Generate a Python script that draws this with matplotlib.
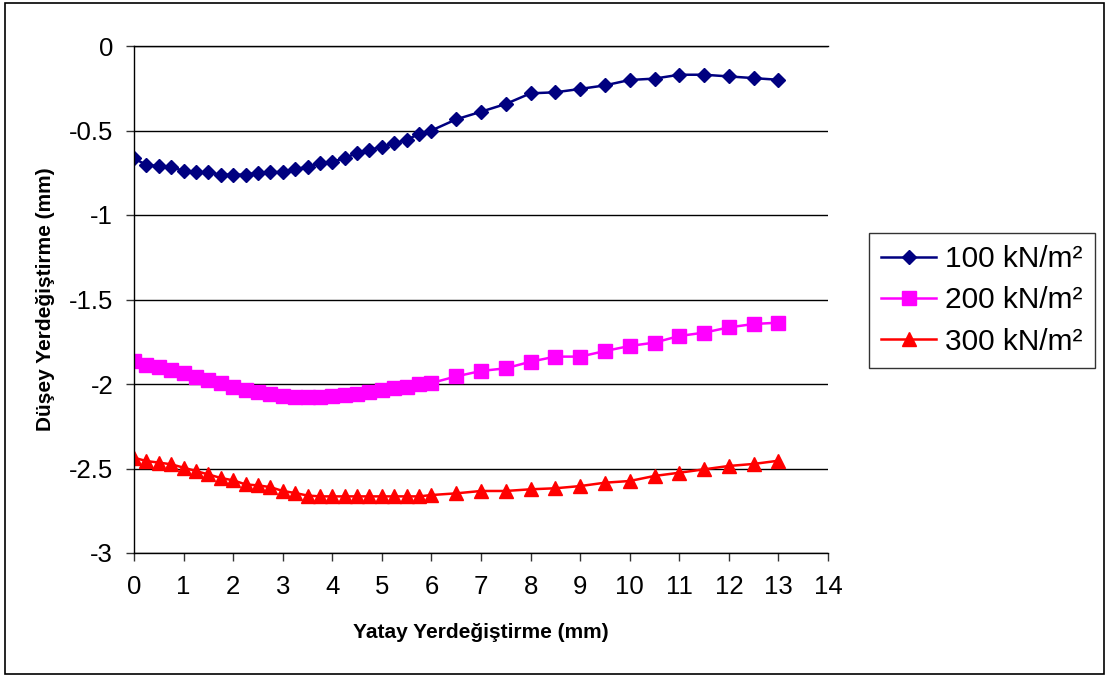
import matplotlib
matplotlib.use('Agg')
import matplotlib.pyplot as plt
from matplotlib.patches import Rectangle
from matplotlib import rcParams

rcParams['font.family'] = ['Liberation Sans', 'DejaVu Sans']

#%% data
x = [0, 0.25, 0.5, 0.75, 1.0, 1.25, 1.5, 1.75, 2.0, 2.25, 2.5, 2.75, 3.0,
     3.25, 3.5, 3.75, 4.0, 4.25, 4.5, 4.75, 5.0, 5.25, 5.5, 5.75, 6.0,
     6.5, 7.0, 7.5, 8.0, 8.5, 9.0, 9.5, 10.0, 10.5, 11.0, 11.5, 12.0, 12.5, 13.0]

y_100 = [-0.665, -0.704, -0.710, -0.718, -0.738, -0.748, -0.748, -0.761, -0.761,
         -0.761, -0.749, -0.748, -0.744, -0.730, -0.714, -0.694, -0.684, -0.665,
         -0.631, -0.615, -0.596, -0.576, -0.556, -0.52, -0.50,
         -0.434, -0.389, -0.343, -0.28, -0.274, -0.254, -0.233, -0.201, -0.193,
         -0.17, -0.17, -0.18, -0.19, -0.20]

y_200 = [-1.864, -1.888, -1.90, -1.92, -1.937, -1.957, -1.976, -1.996, -2.016,
         -2.036, -2.05, -2.06, -2.07, -2.075, -2.075, -2.075, -2.07, -2.065,
         -2.06, -2.045, -2.036, -2.026, -2.016, -2.00, -1.994,
         -1.955, -1.923, -1.907, -1.868, -1.838, -1.838, -1.805, -1.775, -1.755,
         -1.716, -1.696, -1.665, -1.645, -1.637]

y_300 = [-2.436, -2.456, -2.465, -2.475, -2.495, -2.515, -2.535, -2.556, -2.57,
         -2.594, -2.60, -2.61, -2.633, -2.645, -2.66, -2.665, -2.665, -2.665,
         -2.665, -2.665, -2.665, -2.665, -2.665, -2.665, -2.657,
         -2.647, -2.633, -2.633, -2.623, -2.617, -2.604, -2.584, -2.574, -2.544,
         -2.525, -2.505, -2.485, -2.473, -2.454]

labels = ['100 kN/m²', '200 kN/m²', '300 kN/m²']
xticks = list(range(0, 15))
yticks = [0, -0.5, -1, -1.5, -2, -2.5, -3]
ytick_labels = ['0', '-0.5', '-1', '-1.5', '-2', '-2.5', '-3']

#%% plot
W, H = 1109, 675
fig = plt.figure(figsize=(W / 100, H / 100), dpi=100)
ax = fig.add_axes([134 / W, 1 - 553 / H, (828 - 134) / W, (553 - 46) / H])

ax.plot(x, y_100, color='#000080', lw=1.8, marker='D', ms=7.5, label=labels[0])
ax.plot(x, y_200, color='#FF00FF', lw=1.8, marker='s', ms=10.5, label=labels[1])
ax.plot(x, y_300, color='#FF0000', lw=1.8, marker='^', ms=10.5, label=labels[2])

ax.set_xlim(0, 14)
ax.set_ylim(-3, 0)
ax.set_xticks(xticks)
ax.set_yticks(yticks)
ax.set_yticklabels(ytick_labels)
ax.yaxis.grid(True, color='black', lw=1)
ax.set_axisbelow(True)
ax.tick_params(axis='both', direction='out', length=6, width=1, color='#333333',
               labelsize=18.5, pad=9)
ax.tick_params(axis='x', pad=10)

ax.spines['right'].set_visible(False)
for s in ['top', 'left', 'bottom']:
      ax.spines[s].set_linewidth(1)

ax.set_xlabel('Yatay Yerdeğiştirme (mm)', fontsize=15, fontweight='bold', labelpad=17)
ax.set_ylabel('Düşey Yerdeğiştirme (mm)', fontsize=15, fontweight='bold', labelpad=10)

leg = ax.legend(loc='center left', bbox_to_anchor=(869 / W, 1 - 300.5 / H),
                bbox_transform=fig.transFigure, fontsize=21.5, frameon=True,
                fancybox=False, edgecolor='black', borderaxespad=0,
                handlelength=1.85, handletextpad=0.3, borderpad=0.4,
                labelspacing=0.45)
leg.get_frame().set_linewidth(1)

# chart border
fig.patches.append(Rectangle((5 / W, 1 / H), 1099 / W, 671 / H,
                             transform=fig.transFigure, fill=False,
                             edgecolor='black', lw=1.2))

fig.savefig('out.png', dpi=100)
